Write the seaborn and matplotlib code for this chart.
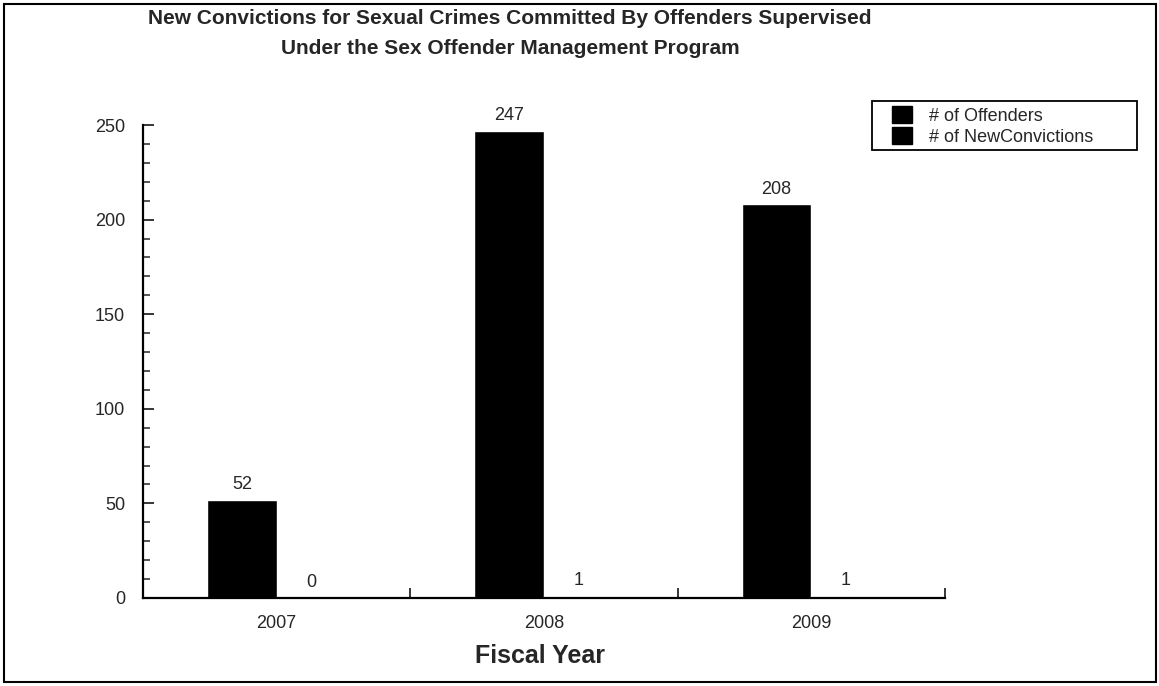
import matplotlib
matplotlib.use("Agg")
import matplotlib.pyplot as plt
import matplotlib.patches as mpatches
from matplotlib.ticker import MultipleLocator
import seaborn as sns
import pandas as pd

years = ["2007", "2008", "2009"]
offenders = [52, 247, 208]
convictions = [0, 1, 1]
series_names = ["# of Offenders", "# of NewConvictions"]

sns.set_theme(style="white")
plt.rcParams['font.family'] = ['Liberation Sans', 'DejaVu Sans']

df = pd.DataFrame({
    "year": years * 2,
    "value": offenders + convictions,
    "series": [series_names[0]] * 3 + [series_names[1]] * 3,
})

W, H = 1159, 686
fig = plt.figure(figsize=(W/100, H/100), dpi=100)
ax = fig.add_axes([143/W, 1 - 598/H, (945-143)/W, (598-125)/H])

sns.barplot(data=df, x="year", y="value", hue="series", palette=["black", "black"],
            width=0.52, ax=ax, legend=False, saturation=1)

for cont in ax.containers:
    ax.bar_label(cont, padding=5, fontsize=13)

ax.set_ylim(0, 250)
ax.set_xlim(-0.5, 2.5)
ax.yaxis.set_major_locator(MultipleLocator(50))
ax.yaxis.set_minor_locator(MultipleLocator(10))
ax.tick_params(axis='y', which='major', direction='in', length=8, width=1.3, labelsize=13, left=True, pad=13)
ax.tick_params(axis='y', which='minor', direction='in', length=5, width=1.1, left=True)
ax.set_xticks([0, 1, 2])
ax.set_xticklabels(years, fontsize=13)
ax.tick_params(axis='x', which='major', length=0, pad=12)
ax.set_xticks([0.5, 1.5, 2.5], minor=True)
ax.tick_params(axis='x', which='minor', direction='in', length=7, width=1.3, bottom=True)

for s in ["top", "right"]:
    ax.spines[s].set_visible(False)
for s in ["left", "bottom"]:
    ax.spines[s].set_color("black")
    ax.spines[s].set_linewidth(1.6)

ax.set_ylabel("")
ax.set_xlabel("")
fig.text(540/W, 1 - 656/H, "Fiscal Year", ha="center", va="center",
         fontsize=18, fontweight="bold")

fig.text(510/W, 1 - 18/H,
         "New Convictions for Sexual Crimes Committed By Offenders Supervised",
         ha="center", va="center", fontsize=15, fontweight="bold")
fig.text(510/W, 1 - 48/H,
         "Under the Sex Offender Management Program",
         ha="center", va="center", fontsize=15, fontweight="bold")

handles = [mpatches.Patch(facecolor="black", edgecolor="black", label=n) for n in series_names]
leg = fig.legend(handles=handles, loc="upper left", bbox_to_anchor=(892/W, 1 - 106/H),
                 fontsize=13, frameon=False, handlelength=1.1, handleheight=1.1,
                 borderpad=0, labelspacing=0.12, handletextpad=0.95, borderaxespad=0)

fig.patches.append(mpatches.Rectangle((872/W, 1 - 150/H), (1137-872)/W, 49/H,
                                      transform=fig.transFigure, fill=False,
                                      edgecolor="black", linewidth=1.3))

fig.patches.append(mpatches.Rectangle((4/W, 1 - 682/H), (1156-4)/W, (682-4)/H,
                                      transform=fig.transFigure, fill=False,
                                      edgecolor="black", linewidth=1.5))

fig.savefig("out.png", dpi=100)
